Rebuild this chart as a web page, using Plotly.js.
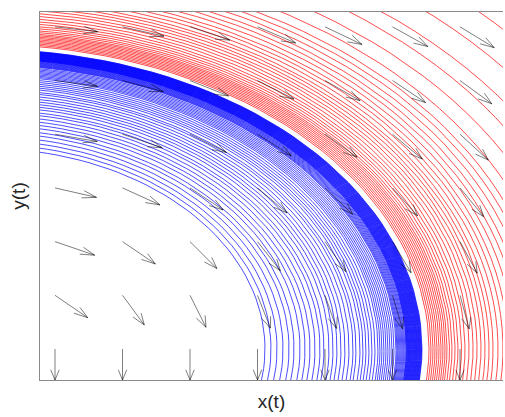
<!DOCTYPE html>
<html><head><meta charset="utf-8">
<script src="https://cdn.plot.ly/plotly-3.0.1.min.js"></script>
<style>html,body{margin:0;padding:0;background:#fff;} #chart{width:505px;height:417px;}</style>
</head><body><div id="chart"></div>
<script>
// Quiver grid (tail positions)
const gridX = [0, 1, 2, 3, 4, 5, 6];
const gridY = [0, 1, 2, 3, 4, 5, 6];
// Arrow components, one row per gridY value, one column per gridX value
const arrowU = [
  [0, 0, 0, 0, 0, 0, 0],
  [0.485, 0.323, 0.237, 0.191, 0.171, 0.148, 0.136],
  [0.588, 0.487, 0.399, 0.339, 0.311, 0.275, 0.255],
  [0.615, 0.556, 0.491, 0.438, 0.410, 0.372, 0.350],
  [0.626, 0.589, 0.542, 0.500, 0.476, 0.441, 0.420],
  [0.631, 0.606, 0.572, 0.539, 0.519, 0.490, 0.471],
  [0.634, 0.615, 0.590, 0.565, 0.549, 0.524, 0.508]
];
const arrowV = [
  [-0.577, -0.577, -0.577, -0.577, -0.577, -0.577, -0.577],
  [-0.417, -0.552, -0.595, -0.611, -0.617, -0.623, -0.625],
  [-0.253, -0.416, -0.501, -0.543, -0.560, -0.578, -0.587],
  [-0.176, -0.317, -0.411, -0.467, -0.492, -0.521, -0.536],
  [-0.135, -0.252, -0.340, -0.400, -0.428, -0.463, -0.483],
  [-0.108, -0.207, -0.287, -0.345, -0.374, -0.412, -0.433],
  [-0.091, -0.175, -0.247, -0.301, -0.329, -0.367, -0.389]
];
// Trajectories: x where each orbit crosses y = 0
const blueCross = [3.111, 3.200, 3.289, 3.378, 3.467, 3.541, 3.630, 3.704, 3.778, 3.852,
  3.926, 3.985, 4.059, 4.119, 4.178, 4.237, 4.296, 4.356, 4.415, 4.459, 4.519, 4.563,
  4.607, 4.652, 4.696, 4.741, 4.785, 4.815, 4.844, 4.874, 4.904, 4.933, 4.963, 4.993,
  5.022, 5.052, 5.067, 5.081, 5.096, 5.111, 5.126, 5.141, 5.156, 5.170, 5.185, 5.200,
  5.207, 5.215, 5.222, 5.230, 5.237, 5.244, 5.252, 5.259, 5.267, 5.274, 5.281, 5.289,
  5.296, 5.304, 5.311, 5.319, 5.326, 5.333, 5.341, 5.348, 5.356, 5.363, 5.370, 5.378,
  5.385, 5.393, 5.400, 5.407, 5.415, 5.422, 5.430, 5.437];
const redCross = [5.541, 5.570, 5.600, 5.630, 5.659, 5.689, 5.719, 5.748, 5.778, 5.807,
  5.844, 5.881, 5.926, 5.970, 6.022, 6.074, 6.133, 6.193, 6.252, 6.311, 6.370, 6.430,
  6.489, 6.563, 6.637, 6.711, 6.800, 6.889, 6.978, 7.081, 7.185, 7.289, 7.467, 7.733,
  8.030, 8.326, 8.756, 9.289];
// orbit centre on the x axis and vertical/horizontal semi-axis ratio
const orbitCentre = -1.037;
const outerAspect = 0.862;
const innerAspect = 0.901;

const xRange = [-0.2222, 6.637];
const yRange = [-0.577, 6.276];

function orbitTrace(cross, color, varyAspect) {
  const xs = [], ys = [];
  const aOuter = blueCross[blueCross.length - 1] - orbitCentre;
  const aInner = blueCross[0] - orbitCentre;
  cross.forEach(c => {
    const A = c - orbitCentre;
    let k = outerAspect;
    if (varyAspect) k = outerAspect + (aOuter - A) / (aOuter - aInner) * (innerAspect - outerAspect);
    const B = k * A;
    const t0 = -Math.asin(Math.min(1, 0.65 / B));
    const cx = Math.max(-1, Math.min(1, (xRange[0] - 0.05 - orbitCentre) / A));
    const t1 = Math.acos(cx);
    const n = 40;
    for (let i = 0; i <= n; i++) {
      const t = t0 + (t1 - t0) * i / n;
      xs.push(orbitCentre + A * Math.cos(t));
      ys.push(B * Math.sin(t));
    }
    xs.push(null); ys.push(null);
  });
  return {x: xs, y: ys, type: 'scatter', mode: 'lines', hoverinfo: 'skip',
    line: {color: color, width: 0.7}, connectgaps: false};
}

function quiverTrace() {
  const xs = [], ys = [];
  const alpha = 0.33, beta = 0.33;
  gridY.forEach((y, j) => {
    gridX.forEach((x, i) => {
      const u = arrowU[j][i], v = arrowV[j][i];
      xs.push(x, x + u, null); ys.push(y, y + v, null);
      xs.push(x + u - alpha * (u + beta * v), x + u, x + u - alpha * (u - beta * v), null);
      ys.push(y + v - alpha * (v - beta * u), y + v, y + v - alpha * (v + beta * u), null);
    });
  });
  return {x: xs, y: ys, type: 'scatter', mode: 'lines', hoverinfo: 'skip',
    line: {color: 'rgba(0,0,0,0.85)', width: 0.6}, connectgaps: false};
}

const titleFont = {family: 'Liberation Sans, Arial, sans-serif', size: 19, color: '#262626'};
const layout = {
  width: 505, height: 417,
  margin: {l: 40, r: 2, t: 12, b: 37, pad: 0},
  paper_bgcolor: '#ffffff', plot_bgcolor: '#ffffff',
  showlegend: false,
  xaxis: {range: xRange, showline: true, mirror: true, linecolor: '#8a8a8a', linewidth: 1,
    showgrid: false, zeroline: false, ticks: '', showticklabels: false, fixedrange: true,
    title: {text: 'x(t)', font: titleFont, standoff: 14}},
  yaxis: {range: yRange, showline: true, mirror: false, linecolor: '#8a8a8a', linewidth: 1,
    showgrid: false, zeroline: false, ticks: '', showticklabels: false, fixedrange: true,
    title: {text: 'y(t)', font: titleFont, standoff: 8}}
};

Plotly.newPlot('chart', [
  orbitTrace(redCross, '#ff0000', false),
  orbitTrace(blueCross, '#0000ff', true),
  quiverTrace()
], layout, {staticPlot: true, displayModeBar: false});
</script></body></html>
